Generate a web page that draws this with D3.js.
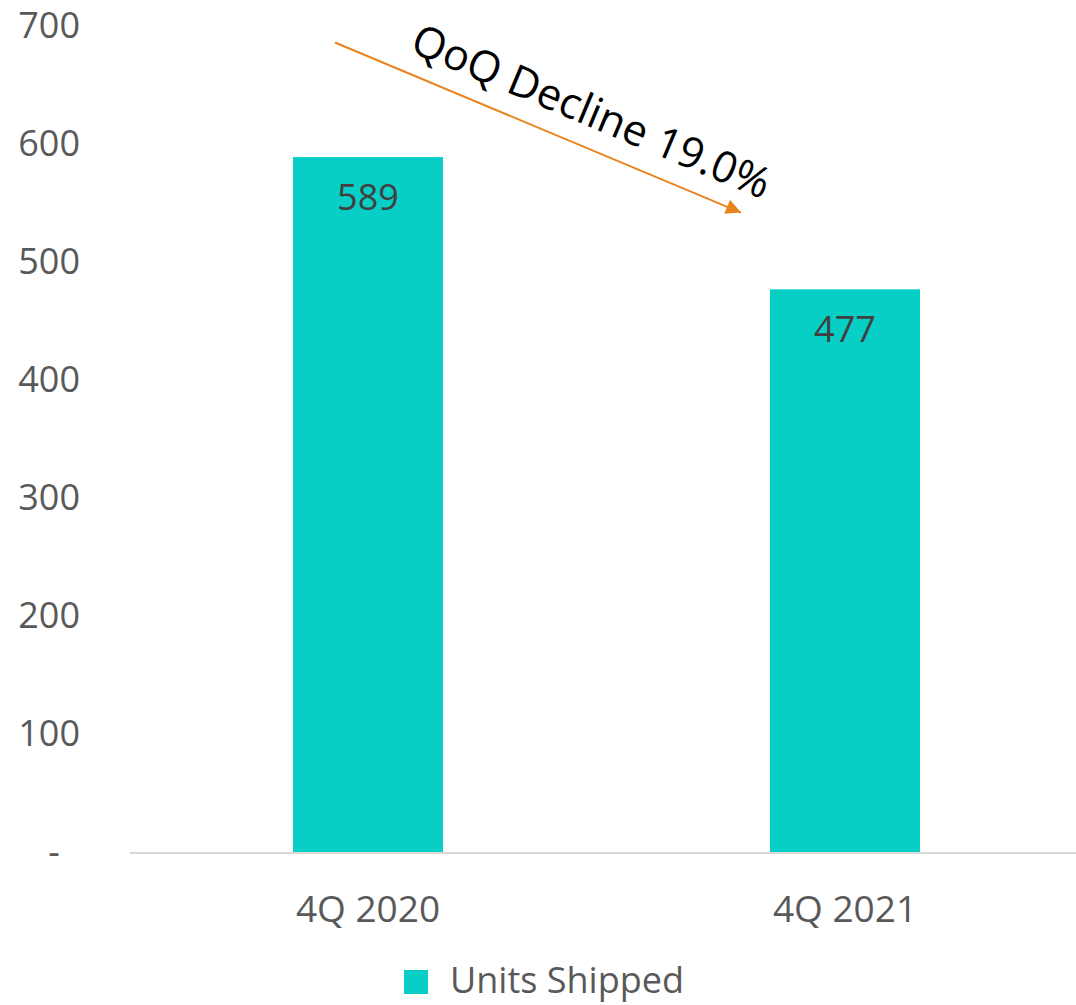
<!DOCTYPE html>
<html>
<head>
<meta charset="utf-8">
<script src="https://cdn.jsdelivr.net/npm/d3@7"></script>
<style>
  body { margin: 0; background: #fff; }
  text { font-family: "Open Sans", sans-serif; }
</style>
</head>
<body>
<script>
var w = 1076;
var h = 1005;

var categories = ["4Q 2020", "4Q 2021"];
var unitsShipped = [589, 477];
var yTicks = [0, 100, 200, 300, 400, 500, 600, 700];
var seriesName = "Units Shipped";
var annotationText = "QoQ Decline 19.0%";
// arrow ends, in data terms (category, pixel nudge from band centre, value)
var arrowFrom = ["4Q 2020", -33, 686];
var arrowTo = ["4Q 2021", -104, 542];

var barColor = "#08cfc6";

var svg = d3.select("body").append("svg").attr("width", w).attr("height", h);

var x = d3.scaleBand()
  .domain(categories)
  .range([130, 1083])
  .paddingInner(0.6855)
  .paddingOuter(0.3417);

var y = d3.scaleLinear().domain([0, 700]).range([852.5, 26]);

// y axis labels
var yAxis = d3.axisLeft(y)
  .tickValues(yTicks)
  .tickSize(0)
  .tickPadding(0)
  .tickFormat(function (d) { return d === 0 ? "-" : d; });

var gy = svg.append("g").attr("transform", "translate(80,0)").call(yAxis);
gy.select(".domain").remove();
gy.selectAll("text")
  .attr("font-family", "Open Sans")
  .attr("font-size", 36)
  .attr("fill", "#595959")
  .attr("x", function (d) { return d === 0 ? -26 : 0; })
  .attr("text-anchor", function (d) { return d === 0 ? "middle" : "end"; });

// bars
svg.selectAll("rect.bar")
  .data(unitsShipped)
  .enter()
  .append("rect")
  .attr("class", "bar")
  .attr("x", function (d, i) { return x(categories[i]); })
  .attr("y", function (d) { return y(d); })
  .attr("width", x.bandwidth())
  .attr("height", function (d) { return y(0) - y(d); })
  .attr("fill", barColor);

// baseline
svg.append("line")
  .attr("x1", 130)
  .attr("x2", w)
  .attr("y1", y(0) + 0.5)
  .attr("y2", y(0) + 0.5)
  .attr("stroke", "#d9d9d9")
  .attr("stroke-width", 2);

// value labels
svg.selectAll("text.val")
  .data(unitsShipped)
  .enter()
  .append("text")
  .attr("class", "val")
  .text(function (d) { return d; })
  .attr("x", function (d, i) { return x(categories[i]) + x.bandwidth() / 2; })
  .attr("y", function (d) { return y(d) + 53; })
  .attr("text-anchor", "middle")
  .attr("font-size", 36)
  .attr("fill", "#404040");

// x axis labels
var xAxis = d3.axisBottom(x).tickSize(0).tickPadding(0);
var gx = svg.append("g").attr("transform", "translate(0," + y(0) + ")").call(xAxis);
gx.select(".domain").remove();
gx.selectAll("text")
  .attr("font-family", "Open Sans")
  .attr("font-size", 37)
  .attr("fill", "#595959")
  .attr("dy", null)
  .attr("y", 69);

// arrow annotation
var defs = svg.append("defs");
defs.append("marker")
  .attr("id", "arrowhead")
  .attr("viewBox", "0 0 10 10")
  .attr("refX", 10)
  .attr("refY", 5)
  .attr("markerUnits", "userSpaceOnUse")
  .attr("markerWidth", 19)
  .attr("markerHeight", 15)
  .attr("orient", "auto")
  .append("path")
  .attr("d", "M0,0 L10,5 L0,10 Z")
  .attr("fill", "#e8831e");

var ax1 = x(arrowFrom[0]) + x.bandwidth() / 2 + arrowFrom[1];
var ay1 = y(arrowFrom[2]);
var ax2 = x(arrowTo[0]) + x.bandwidth() / 2 + arrowTo[1];
var ay2 = y(arrowTo[2]);

svg.append("line")
  .attr("x1", ax1)
  .attr("y1", ay1)
  .attr("x2", ax2)
  .attr("y2", ay2)
  .attr("stroke", "#e8831e")
  .attr("stroke-width", 2)
  .attr("marker-end", "url(#arrowhead)");

var angle = Math.atan2(ay2 - ay1, ax2 - ax1) * 180 / Math.PI;
svg.append("text")
  .text(annotationText)
  .attr("transform", "translate(592,110) rotate(" + angle + ")")
  .attr("text-anchor", "middle")
  .attr("dominant-baseline", "central")
  .attr("font-size", 43)
  .attr("fill", "#000");

// legend
var legend = svg.append("g").attr("transform", "translate(404,970)");
legend.append("rect")
  .attr("width", 24)
  .attr("height", 24)
  .attr("fill", barColor);
legend.append("text")
  .text(seriesName)
  .attr("x", 46)
  .attr("y", 23)
  .attr("font-size", 36)
  .attr("fill", "#595959");
</script>
</body>
</html>
